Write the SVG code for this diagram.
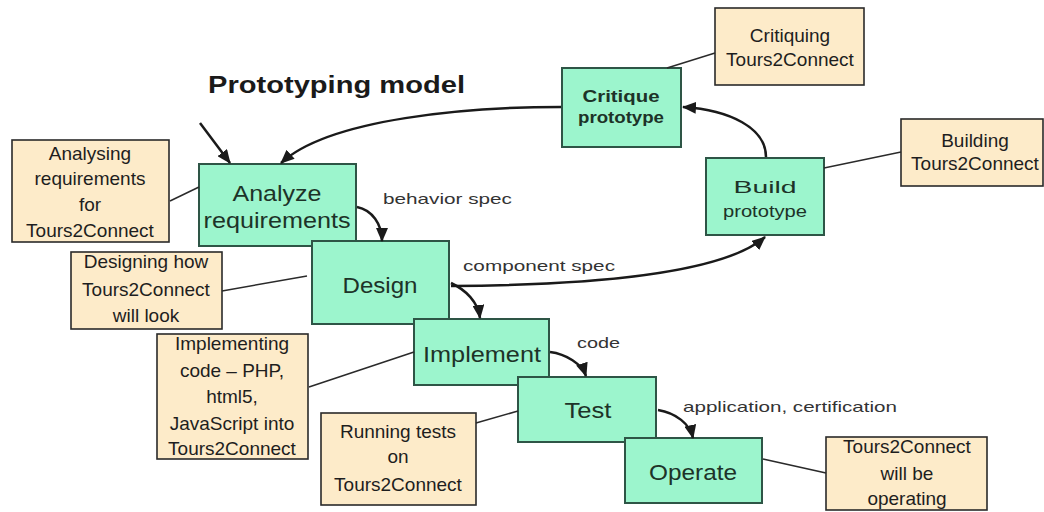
<svg xmlns="http://www.w3.org/2000/svg" width="1044" height="512" viewBox="0 0 1044 512">
<defs>
<marker id="ah" markerUnits="userSpaceOnUse" markerWidth="14" markerHeight="12" refX="13" refY="6" orient="auto">
<path d="M0,0 L14,6 L0,12 Z" fill="#1a1a1a"/>
</marker>
<style>
.g{fill:#9cf5cd;stroke:#2e5546;stroke-width:2}
.t{fill:#fdebc9;stroke:#2a2a2a;stroke-width:1.6}
.gt{font-family:"Liberation Sans",Arial,sans-serif;fill:#1d3328;text-anchor:middle}
.nt{font-family:"Liberation Sans",Arial,sans-serif;font-size:19px;fill:#1e1e1e;text-anchor:middle}
.el{font-family:"Liberation Sans",Arial,sans-serif;font-size:15px;fill:#333}
.c{fill:none;stroke:#1a1a1a;stroke-width:2.5;marker-end:url(#ah)}
.a{fill:none;stroke:#2a2a2a;stroke-width:1.5}
</style>
</defs>
<rect width="1044" height="512" fill="#ffffff"/>
<text x="208" y="93" font-family="Liberation Sans,Arial,sans-serif" font-weight="bold" font-size="24" fill="#1a1a1a" textLength="257" lengthAdjust="spacingAndGlyphs">Prototyping model</text>

<g id="analyze">
<rect class="g" x="199" y="164" width="157" height="82"/>
<text class="gt" font-size="22" x="277" y="201" textLength="89" lengthAdjust="spacingAndGlyphs">Analyze</text>
<text class="gt" font-size="22" x="277" y="228" textLength="147" lengthAdjust="spacingAndGlyphs">requirements</text>
</g>
<g id="design">
<rect class="g" x="312" y="241" width="137" height="83"/>
<text class="gt" font-size="22" x="380" y="293" textLength="75" lengthAdjust="spacingAndGlyphs">Design</text>
</g>
<g id="implement">
<rect class="g" x="414" y="319" width="135" height="66"/>
<text class="gt" font-size="22" x="482" y="362" textLength="118" lengthAdjust="spacingAndGlyphs">Implement</text>
</g>
<g id="test">
<rect class="g" x="518" y="377" width="138" height="65"/>
<text class="gt" font-size="22" x="588" y="418" textLength="47" lengthAdjust="spacingAndGlyphs">Test</text>
</g>
<g id="operate">
<rect class="g" x="625" y="438" width="137" height="65"/>
<text class="gt" font-size="22" x="693" y="480" textLength="88" lengthAdjust="spacingAndGlyphs">Operate</text>
</g>
<g id="critique">
<rect class="g" x="562" y="68" width="119" height="79"/>
<text class="gt" font-size="16" font-weight="bold" x="621" y="102" textLength="77" lengthAdjust="spacingAndGlyphs">Critique</text>
<text class="gt" font-size="16" font-weight="bold" x="621" y="123" textLength="86" lengthAdjust="spacingAndGlyphs">prototype</text>
</g>
<g id="build">
<rect class="g" x="706" y="158" width="118" height="77"/>
<text class="gt" font-size="16" x="765" y="193" textLength="63" lengthAdjust="spacingAndGlyphs">Build</text>
<text class="gt" font-size="16" x="765" y="217" textLength="84" lengthAdjust="spacingAndGlyphs">prototype</text>
</g>

<g id="n-critiquing">
<rect class="t" x="715" y="8" width="149" height="77"/>
<text class="nt" x="790" y="42">Critiquing</text>
<text class="nt" x="790" y="66">Tours2Connect</text>
</g>
<g id="n-building">
<rect class="t" x="901" y="119" width="142" height="67"/>
<text class="nt" x="975" y="147">Building</text>
<text class="nt" x="975" y="170">Tours2Connect</text>
</g>
<g id="n-analysing">
<rect class="t" x="12" y="140" width="157" height="102"/>
<text class="nt" x="90" y="160">Analysing</text>
<text class="nt" x="90" y="185">requirements</text>
<text class="nt" x="90" y="211">for</text>
<text class="nt" x="90" y="237">Tours2Connect</text>
</g>
<g id="n-designing">
<rect class="t" x="71" y="252" width="151" height="77"/>
<text class="nt" x="146" y="268">Designing how</text>
<text class="nt" x="146" y="296">Tours2Connect</text>
<text class="nt" x="146" y="322">will look</text>
</g>
<g id="n-implementing">
<rect class="t" x="157" y="334" width="151" height="125"/>
<text class="nt" x="232" y="350">Implementing</text>
<text class="nt" x="232" y="377">code – PHP,</text>
<text class="nt" x="232" y="403">html5,</text>
<text class="nt" x="232" y="430">JavaScript into</text>
<text class="nt" x="232" y="455">Tours2Connect</text>
</g>
<g id="n-running">
<rect class="t" x="321" y="413" width="155" height="92"/>
<text class="nt" x="398" y="438">Running tests</text>
<text class="nt" x="398" y="463">on</text>
<text class="nt" x="398" y="491">Tours2Connect</text>
</g>
<g id="n-operating">
<rect class="t" x="826" y="437" width="161" height="73"/>
<text class="nt" x="907" y="453">Tours2Connect</text>
<text class="nt" x="907" y="480">will be</text>
<text class="nt" x="907" y="505">operating</text>
</g>

<g id="connectors">
<line class="c" x1="200" y1="123" x2="230" y2="163"/>
<path class="c" d="M561,107 C470,107 330,118 281,163"/>
<path class="c" d="M766,157 C766,128 730,110 683,107"/>
<path class="c" d="M451,286 C600,285 725,272 765,237"/>
<path class="c" d="M357,207 C372,210 382,224 382,241"/>
<path class="c" d="M451,283 C466,290 478,302 480,318"/>
<path class="c" d="M550,352 C566,354 582,364 586,376"/>
<path class="c" d="M658,410 C676,413 690,424 693,438"/>
<line class="a" x1="170" y1="201" x2="199" y2="187"/>
<line class="a" x1="222" y1="291" x2="307" y2="276"/>
<line class="a" x1="309" y1="387" x2="414" y2="352"/>
<line class="a" x1="476" y1="423" x2="518" y2="411"/>
<line class="a" x1="667" y1="68" x2="715" y2="53"/>
<line class="a" x1="824" y1="168" x2="901" y2="152"/>
<line class="a" x1="763" y1="459" x2="826" y2="473"/>
<text class="el" x="383" y="204" textLength="129" lengthAdjust="spacingAndGlyphs">behavior spec</text>
<text class="el" x="463" y="271" textLength="152" lengthAdjust="spacingAndGlyphs">component spec</text>
<text class="el" x="577" y="348" textLength="43" lengthAdjust="spacingAndGlyphs">code</text>
<text class="el" x="683" y="412" textLength="214" lengthAdjust="spacingAndGlyphs">application, certification</text>
</g>
</svg>
